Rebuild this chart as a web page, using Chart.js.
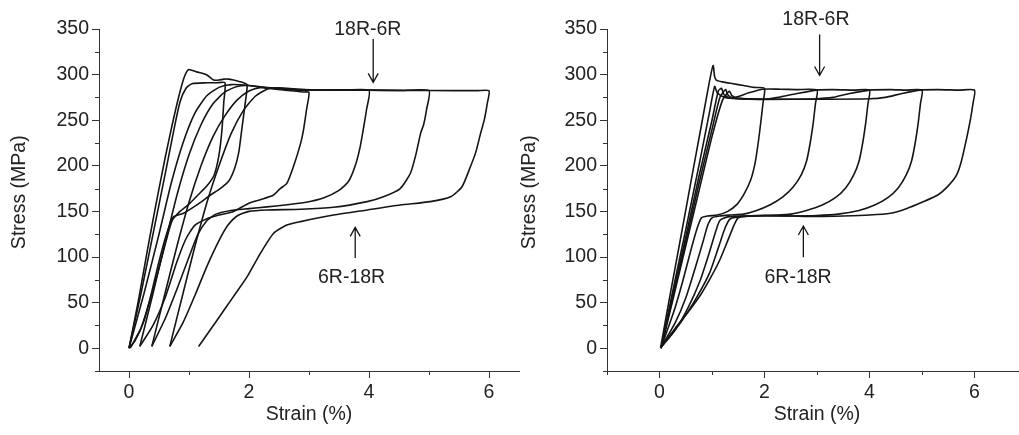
<!DOCTYPE html>
<html>
<head>
<meta charset="utf-8">
<script src="https://cdn.jsdelivr.net/npm/chart.js@4.4.1/dist/chart.umd.min.js"></script>
<style>
  html, body { margin: 0; padding: 0; background: #fff; overflow: hidden; width: 1019px; height: 435px; }
  canvas { position: absolute; top: 0; }
  #left { left: 0; }
  #right { left: 510px; }
</style>
</head>
<body>
<canvas id="left" width="520" height="435"></canvas>
<canvas id="right" width="520" height="435"></canvas>
<script>
// ---- left panel: cycles with growing max strain, residual strain builds up ----
const l1Strain = [0, 0.15, 0.3, 0.45, 0.6, 0.72, 0.83, 0.92, 0.99, 1.06, 1.13, 1.22, 1.3, 1.41, 1.5, 1.58, 1.66, 1.74, 1.83, 1.91, 1.97, 1.93, 1.88, 1.83, 1.76, 1.66, 1.52, 1.36, 1.15, 0.91, 0.74, 0.63, 0.5, 0.38, 0.25, 0.1, 0];
const l1Stress = [0, 50, 105, 158, 208, 245, 276, 297, 305.5, 304.5, 303, 301.5, 299.5, 294, 294, 295, 295, 294, 292.5, 291, 289, 265, 240, 215, 197, 183, 175, 168, 158, 148, 144, 126, 95, 62, 30, 8, 0];

const l2Strain = [0, 0.2, 0.4, 0.6, 0.75, 0.85, 0.95, 1.05, 1.3, 1.45, 1.6, 1.58, 1.55, 1.5, 1.42, 1.3, 1.15, 1.0, 0.85, 0.72, 0.62, 0.5, 0.36, 0.2, 0.02];
const l2Stress = [0, 60, 125, 190, 240, 270, 285, 290, 291, 291, 291, 270, 240, 212, 190, 178, 168, 158, 150, 140, 118, 88, 55, 22, 0];

const l3Strain = [0, 0.25, 0.5, 0.7, 0.9, 1.1, 1.3, 1.5, 1.7, 2.0, 2.3, 2.6, 2.9, 3.0, 2.96, 2.91, 2.86, 2.74, 2.63, 2.52, 2.41, 2.2, 2.0, 1.74, 1.5, 1.3, 1.1, 0.95, 0.8, 0.6, 0.4, 0.18];
const l3Stress = [0, 60, 125, 180, 225, 258, 277, 286, 289, 288, 285, 283, 281, 280.4, 262, 240, 224.6, 199, 180.7, 175, 168, 163, 159, 150, 146, 142, 135, 120, 95, 55, 25, 2];

const l4Strain = [0.18, 0.4, 0.6, 0.8, 1.0, 1.2, 1.4, 1.6, 1.8, 2.0, 2.4, 2.8, 3.2, 3.6, 4.0, 3.96, 3.91, 3.85, 3.77, 3.66, 3.5, 3.25, 2.95, 2.6, 2.3, 2.0, 1.7, 1.45, 1.3, 1.15, 1.0, 0.8, 0.6, 0.38];
const l4Stress = [2, 60, 115, 168, 212, 245, 268, 281, 287, 288, 285, 283, 283, 283, 282.7, 262, 242, 220, 200, 183, 173, 165, 160, 157, 155, 153, 151, 147, 140, 125, 100, 65, 32, 2];

const l5Strain = [0.38, 0.6, 0.8, 1.0, 1.2, 1.4, 1.6, 1.8, 2.0, 2.2, 2.5, 3.0, 3.5, 4.0, 4.5, 5.0, 4.96, 4.91, 4.86, 4.78, 4.69, 4.52, 4.24, 3.97, 3.41, 2.86, 2.3, 2.0, 1.8, 1.65, 1.5, 1.3, 1.1, 0.9, 0.68];
const l5Stress = [2, 60, 112, 160, 200, 232, 255, 272, 282, 286, 285, 283, 283, 283, 282.5, 282.4, 262, 245, 235.6, 212, 191.8, 175, 166, 160.7, 154.5, 152.3, 151.6, 150, 145, 135, 118, 90, 58, 28, 2];

const l6Strain = [0.68, 0.9, 1.1, 1.3, 1.5, 1.7, 1.9, 2.1, 2.3, 2.5, 2.8, 3.2, 4.0, 5.0, 5.8, 6.0, 5.97, 5.92, 5.86, 5.78, 5.69, 5.55, 5.36, 5.02, 4.52, 3.97, 3.41, 2.86, 2.63, 2.41, 2.19, 1.97, 1.74, 1.47, 1.16];
const l6Stress = [2, 60, 112, 160, 200, 235, 260, 276, 284, 285.5, 284, 283, 283, 282.5, 282.4, 282.4, 268, 250, 235.6, 215, 199, 177, 166, 160.7, 157, 151.6, 146, 138.8, 135, 126, 104, 78.5, 56.6, 31, 1.8];

// ---- right panel: every cycle restarts from zero strain ----
const r1Strain = [0.02, 0.2, 0.4, 0.6, 0.8, 0.95, 1.02, 1.05, 1.08, 1.2, 1.4, 1.6, 1.8, 2.0, 1.97, 1.93, 1.88, 1.82, 1.74, 1.62, 1.48, 1.3, 1.1, 0.92, 0.8, 0.72, 0.6, 0.45, 0.3, 0.15, 0.03];
const r1Stress = [0, 58, 120, 183, 245, 292, 310, 298, 294, 292, 290, 288, 286, 285, 268, 248, 225, 203, 185, 170, 158, 150, 146, 145, 143, 132, 108, 75, 45, 20, 1];

const r2Strain = [0.03, 0.25, 0.5, 0.75, 0.95, 1.05, 1.1, 1.2, 1.35, 1.5, 1.7, 1.97, 2.3, 2.6, 3.0, 2.97, 2.93, 2.87, 2.8, 2.7, 2.55, 2.35, 2.1, 1.85, 1.6, 1.35, 1.15, 1.0, 0.92, 0.82, 0.68, 0.5, 0.3, 0.03];
const r2Stress = [0, 62, 130, 200, 258, 287, 280, 276, 274, 276, 280, 284, 284, 283.5, 283, 268, 248, 225, 205, 190, 177, 166, 157, 151, 147, 146, 145, 143, 135, 115, 88, 55, 28, 1];

const r3Strain = [0.03, 0.25, 0.5, 0.75, 1.0, 1.12, 1.18, 1.23, 1.35, 1.7, 2.0, 2.3, 2.6, 2.99, 3.3, 3.7, 4.0, 3.97, 3.93, 3.87, 3.8, 3.7, 3.55, 3.35, 3.1, 2.8, 2.5, 2.2, 1.9, 1.6, 1.3, 1.15, 1.07, 0.95, 0.78, 0.55, 0.3, 0.03];
const r3Stress = [0, 58, 122, 188, 250, 282, 285, 278, 274, 273, 273, 275.5, 279, 283, 283.5, 283, 283, 268, 248, 225, 205, 190, 176, 165, 157, 151, 147, 146, 145.5, 145, 144, 140, 128, 105, 75, 45, 20, 1];

const r4Strain = [0.03, 0.25, 0.5, 0.75, 1.0, 1.15, 1.26, 1.3, 1.4, 1.8, 2.5, 3.0, 3.3, 3.6, 4.0, 4.4, 4.7, 5.0, 4.97, 4.93, 4.87, 4.8, 4.7, 4.55, 4.35, 4.1, 3.8, 3.4, 3.0, 2.5, 2.0, 1.6, 1.35, 1.25, 1.12, 0.95, 0.7, 0.4, 0.03];
const r4Stress = [0, 55, 117, 180, 240, 275, 283.6, 278, 274.5, 273, 273, 273.5, 275, 279, 283, 283.5, 283, 283, 268, 248, 225, 205, 190, 176, 165, 157, 151, 147, 145.5, 145, 145, 144.5, 142, 132, 110, 82, 55, 28, 1];

const r5Strain = [0.03, 0.25, 0.5, 0.75, 1.0, 1.2, 1.33, 1.38, 1.5, 2.0, 3.0, 4.0, 4.3, 4.6, 4.96, 5.3, 5.7, 6.0, 5.97, 5.92, 5.85, 5.75, 5.66, 5.5, 5.3, 5.0, 4.7, 4.4, 4.0, 3.5, 3.0, 2.5, 2.0, 1.7, 1.5, 1.42, 1.3, 1.15, 1.0, 0.8, 0.55, 0.3, 0.03];
const r5Stress = [0, 52, 112, 172, 232, 272, 281.7, 277, 274, 273, 273, 273.5, 275, 279, 283, 283.5, 283, 283, 268, 250, 230, 205, 190, 178, 168, 160, 153, 148, 146, 145, 144.5, 145, 145.5, 145, 143, 135, 118, 97, 80, 60, 40, 22, 1];

// axis ticks
const stressTicks = [0, 50, 100, 150, 200, 250, 300, 350];
const stressMinor = [-25, 25, 75, 125, 175, 225, 275, 325];
const strainTicks = [0, 2, 4, 6];
const strainMinorLeft = [1, 3, 5];
const strainMinorRight = [-1, 1, 3, 5];

// phase labels with their arrows (strain, stress)
const leftNotes = [
  { text: '18R-6R', x: 3.98, y: 348.8, ax: 4.07, from: 339, to: 291.5 },
  { text: '6R-18R', x: 3.71, y: 77, ax: 3.77, from: 99, to: 132.5 }
];
const rightNotes = [
  { text: '18R-6R', x: 2.98, y: 360, ax: 3.05, from: 344, to: 299 },
  { text: '6R-18R', x: 2.64, y: 77.7, ax: 2.74, from: 99.6, to: 134 }
];

const ink = '#151515';
const fontFamily = '"Liberation Sans", Arial, sans-serif';
Chart.defaults.font.family = fontFamily;
Chart.defaults.font.size = 19.5;
Chart.defaults.color = '#222';

const zip = (xs, ys) => xs.map((x, i) => ({ x: x, y: ys[i] }));

// minor tick marks, y title, arrow labels
const extras = {
  id: 'extras',
  afterDraw(chart, args, opts) {
    const { ctx, scales: { x, y } } = chart;
    ctx.save();
    ctx.strokeStyle = '#333';
    ctx.lineWidth = 1;
    ctx.beginPath();
    opts.xMinor.forEach(v => {
      const px = Math.round(x.getPixelForValue(v)) + 0.5;
      ctx.moveTo(px, x.top);
      ctx.lineTo(px, x.top + 4);
    });
    opts.yMinor.forEach(v => {
      const py = Math.round(y.getPixelForValue(v)) + 0.5;
      ctx.moveTo(y.right, py);
      ctx.lineTo(y.right - 4, py);
    });
    ctx.stroke();

    ctx.fillStyle = '#222';
    ctx.font = '19.5px ' + fontFamily;
    ctx.textAlign = 'center';
    ctx.textBaseline = 'middle';

    // y title sits a little above the middle of the axis
    ctx.save();
    ctx.translate(y.left + 20, y.getPixelForValue(171));
    ctx.rotate(-Math.PI / 2);
    ctx.fillText(opts.yTitle, 0, 0);
    ctx.restore();

    ctx.strokeStyle = ink;
    ctx.lineWidth = 1.3;
    opts.notes.forEach(n => {
      ctx.fillText(n.text, x.getPixelForValue(n.x), y.getPixelForValue(n.y));
      const ax = x.getPixelForValue(n.ax);
      const y0 = y.getPixelForValue(n.from);
      const y1 = y.getPixelForValue(n.to);
      const dir = y1 > y0 ? 1 : -1;
      ctx.beginPath();
      ctx.moveTo(ax, y0);
      ctx.lineTo(ax, y1);
      ctx.moveTo(ax - 5, y1 - dir * 9);
      ctx.lineTo(ax, y1);
      ctx.lineTo(ax + 5, y1 - dir * 9);
      ctx.stroke();
    });
    ctx.restore();
  }
};

function drawPanel(id, strains, stresses, xMin, xMax, xMinor, notes, yWidth, padRight) {
  const datasets = strains.map((s, i) => ({
    data: zip(s, stresses[i]),
    borderColor: ink,
    borderWidth: 1.6,
    pointRadius: 0,
    tension: 0.2,
    fill: false
  }));
  return new Chart(document.getElementById(id), {
    type: 'line',
    data: { datasets: datasets },
    plugins: [extras],
    options: {
      responsive: false,
      animation: false,
      devicePixelRatio: 1,
      layout: { padding: { top: 29, right: padRight, left: 0, bottom: 0 } },
      plugins: {
        legend: { display: false },
        tooltip: { enabled: false },
        extras: { xMinor: xMinor, yMinor: stressMinor, notes: notes, yTitle: 'Stress (MPa)' }
      },
      scales: {
        x: {
          type: 'linear',
          min: xMin,
          max: xMax,
          afterBuildTicks: s => { s.ticks = strainTicks.map(v => ({ value: v })); },
          afterFit: s => { s.height = 64; },
          grid: { drawOnChartArea: false, tickLength: 7, tickColor: '#333' },
          border: { color: '#333', width: 1 },
          ticks: { padding: 3, maxRotation: 0 },
          title: { display: true, text: 'Strain (%)', padding: { top: 0, bottom: 8.6 } }
        },
        y: {
          type: 'linear',
          min: -25,
          max: 350,
          afterBuildTicks: s => { s.ticks = stressTicks.map(v => ({ value: v })); },
          afterFit: s => { s.width = yWidth; },
          grid: { drawOnChartArea: false, tickLength: 7, tickColor: '#333' },
          border: { color: '#333', width: 1 },
          ticks: { padding: 3 }
        }
      }
    }
  });
}

drawPanel('left',
  [l1Strain, l2Strain, l3Strain, l4Strain, l5Strain, l6Strain],
  [l1Stress, l2Stress, l3Stress, l4Stress, l5Stress, l6Stress],
  -0.5, 6.5, strainMinorLeft, leftNotes, 99, 1);

drawPanel('right',
  [r1Strain, r2Strain, r3Strain, r4Strain, r5Strain],
  [r1Stress, r2Stress, r3Stress, r4Stress, r5Stress],
  -1, 7, strainMinorRight, rightNotes, 97, 3);
</script>
</body>
</html>
